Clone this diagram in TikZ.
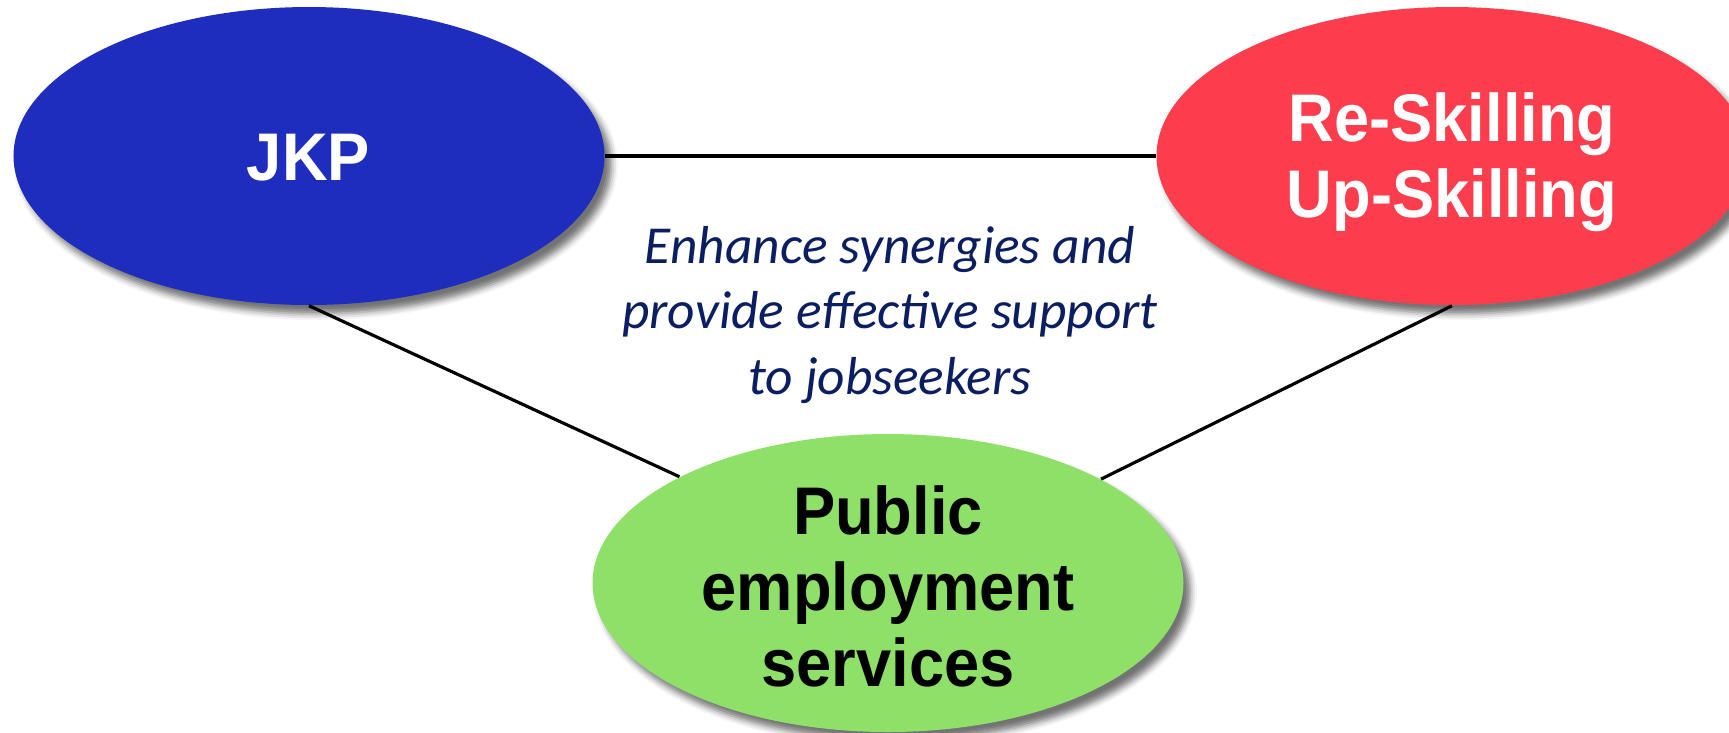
\documentclass[tikz,border=0pt]{standalone}
\usepackage{fontspec}
\setmainfont{Liberation Sans}
\newfontfamily\calib{Carlito}
\usetikzlibrary{shapes.geometric,shadows.blur}
\definecolor{jkpblue}{RGB}{31,45,190}
\definecolor{rsred}{RGB}{252,61,78}
\definecolor{pesgreen}{RGB}{142,224,104}
\definecolor{navytext}{RGB}{11,30,98}
\tikzset{
  bubble/.style={ellipse, minimum width=5.91cm, minimum height=2.98cm, inner sep=0pt,
    blur shadow={shadow xshift=2pt, shadow yshift=-2.5pt, shadow blur radius=1.8pt, shadow opacity=55}},
  bubbletext/.style={font=\fontsize{18}{20.4}\selectfont\bfseries, align=center, inner sep=0pt,
    yscale=1.065, transform shape},
  link/.style={draw=black, line width=0.9pt},
  note/.style={font=\calib\itshape\fontsize{15.2}{18.5}\selectfont, text=navytext, align=center, inner sep=0pt}
}
\begin{document}
\begin{tikzpicture}
\useasboundingbox (0,0) rectangle (17.29,-7.32);
\node[bubble, fill=jkpblue] (jkp) at (3.09,-1.56) {};
\node[bubble, fill=rsred] (rs) at (14.52,-1.56) {};
\node[bubble, fill=pesgreen] (pes) at (8.88,-5.83) {};
\draw[link] (jkp.east) -- (rs.west);
\draw[link] (jkp.south) -- (pes.153.5);
\draw[link] (rs.south) -- (pes.26.5);
\node[bubbletext, text=white] (jkpt) at (3.085,-1.575) {JKP};
\node[bubbletext, text=white] (rst) at (14.52,-1.62) {Re-Skilling\\Up-Skilling};
\node[bubbletext, text=black] (pest) at (8.88,-5.865) {Public\\employment\\services};
\node[note] (nt) at (8.90,-3.15) {Enhance synergies and\\provide effective support\\to jobseekers};
\end{tikzpicture}
\end{document}
